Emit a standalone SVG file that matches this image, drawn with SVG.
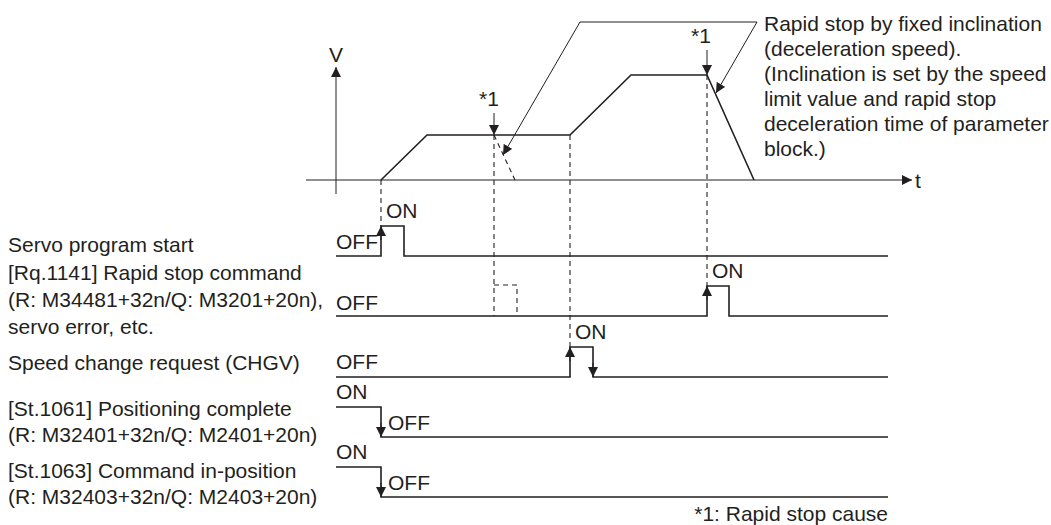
<svg xmlns="http://www.w3.org/2000/svg" width="1051" height="525" viewBox="0 0 1051 525">
<style>
text{font-family:"Liberation Sans",Arial,sans-serif;font-size:21px;fill:#231f20}
.thin{fill:none;stroke:#231f20;stroke-width:1}
.prof{fill:none;stroke:#231f20;stroke-width:1.6}
.sig{fill:none;stroke:#231f20;stroke-width:1.6}
.dash{fill:none;stroke:#231f20;stroke-width:1.1;stroke-dasharray:5,4}
</style>
<defs>
<marker id="ah" markerUnits="userSpaceOnUse" markerWidth="10" markerHeight="10" refX="10" refY="5" orient="auto">
<path d="M0,0 L10,5 L0,10 z" fill="#231f20"/>
</marker>
</defs>
<rect width="1051" height="525" fill="#fff"/>
<g id="axes">
<line class="thin" x1="336" y1="194" x2="336" y2="67" marker-end="url(#ah)"/>
<line class="thin" x1="306" y1="180" x2="912" y2="180" marker-end="url(#ah)"/>
<text x="336" y="62" text-anchor="middle">V</text>
<text x="915" y="188">t</text>
</g>
<g id="speed-profile">
<polyline class="prof" points="381,180 427,135 570,135 631,75 707,75 754,180"/>
<line class="dash" x1="494" y1="135" x2="515" y2="180"/>
</g>
<g id="connectors">
<line class="dash" x1="381" y1="180" x2="381" y2="226"/>
<line class="dash" x1="494" y1="135" x2="494" y2="316"/>
<polyline class="dash" points="494,285 517,285 517,316"/>
<line class="dash" x1="570" y1="135" x2="570" y2="347"/>
<line class="dash" x1="707" y1="75" x2="707" y2="286"/>
<line class="thin" x1="494" y1="113" x2="494" y2="135" marker-end="url(#ah)"/>
<line class="thin" x1="707" y1="50" x2="707" y2="75" marker-end="url(#ah)"/>
<polyline class="thin" points="757,22 580,22 503,155" marker-end="url(#ah)"/>
<line class="thin" x1="757" y1="22" x2="716" y2="93" marker-end="url(#ah)"/>
<text x="479" y="106">*1</text>
<text x="691" y="43">*1</text>
</g>
<g id="annotation">
<text x="764" y="31">Rapid stop by fixed inclination</text>
<text x="764" y="56">(deceleration speed).</text>
<text x="764" y="81">(Inclination is set by the speed</text>
<text x="764" y="106">limit value and rapid stop</text>
<text x="764" y="131">deceleration time of parameter</text>
<text x="764" y="156">block.)</text>
</g>
<g id="servo-program-start">
<text x="8" y="252">Servo program start</text>
<text x="336" y="249">OFF</text>
<text x="386" y="218">ON</text>
<polyline class="sig" points="336,256 381,256 381,226 404,226 404,256 888,256"/>
<line class="thin" x1="381" y1="240" x2="381" y2="226" marker-end="url(#ah)"/>
</g>
<g id="rapid-stop-command">
<text x="8" y="280">[Rq.1141] Rapid stop command</text>
<text x="8" y="307">(R: M34481+32n/Q: M3201+20n),</text>
<text x="8" y="334">servo error, etc.</text>
<text x="336" y="310">OFF</text>
<text x="712" y="278">ON</text>
<polyline class="sig" points="336,316 707,316 707,286 729,286 729,316 888,316"/>
<line class="thin" x1="707" y1="300" x2="707" y2="286" marker-end="url(#ah)"/>
</g>
<g id="speed-change-request">
<text x="8" y="370">Speed change request (CHGV)</text>
<text x="336" y="369">OFF</text>
<text x="575" y="339">ON</text>
<polyline class="sig" points="336,377 570,377 570,347 593,347 593,377 888,377"/>
<line class="thin" x1="570" y1="361" x2="570" y2="347" marker-end="url(#ah)"/>
<line class="thin" x1="593" y1="363" x2="593" y2="377" marker-end="url(#ah)"/>
</g>
<g id="positioning-complete">
<text x="8" y="416">[St.1061] Positioning complete</text>
<text x="8" y="442">(R: M32401+32n/Q: M2401+20n)</text>
<text x="336" y="399">ON</text>
<text x="388" y="430">OFF</text>
<polyline class="sig" points="336,407 381,407 381,437 888,437"/>
<line class="thin" x1="381" y1="423" x2="381" y2="437" marker-end="url(#ah)"/>
</g>
<g id="command-in-position">
<text x="8" y="478">[St.1063] Command in-position</text>
<text x="8" y="504">(R: M32403+32n/Q: M2403+20n)</text>
<text x="336" y="459">ON</text>
<text x="388" y="490">OFF</text>
<polyline class="sig" points="336,467 381,467 381,497 888,497"/>
<line class="thin" x1="381" y1="483" x2="381" y2="497" marker-end="url(#ah)"/>
</g>
<g id="footnote">
<text x="888" y="521" text-anchor="end">*1: Rapid stop cause</text>
</g>
</svg>
